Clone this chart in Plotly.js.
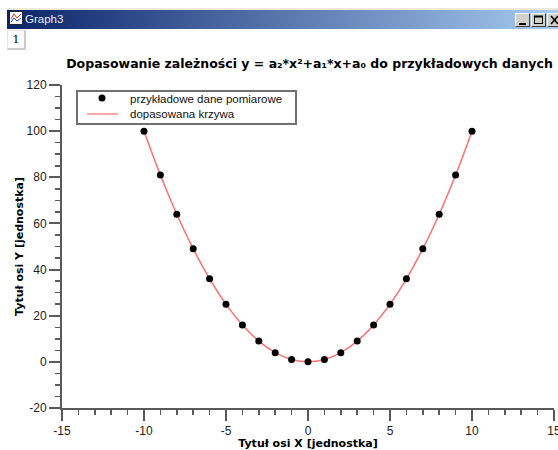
<!DOCTYPE html>
<html><head><meta charset="utf-8">
<script src="https://cdn.plot.ly/plotly-3.0.1.min.js"></script>
<style>
html,body{margin:0;padding:0;background:#fff;overflow:hidden}
#wrap{position:relative;width:558px;height:450px;overflow:hidden}
#bar{position:absolute;left:7px;top:10px;width:551px;height:19px;background:linear-gradient(90deg,#0a246a,#a6caf0);color:#e8ecf4;font:11.5px "Liberation Sans";line-height:19px;text-indent:18px}
#edge{position:absolute;left:7px;top:8px;width:551px;height:2px;background:#ece9d8}
#icon{position:absolute;left:9px;top:11px}
.btn{position:absolute;top:13px;width:15px;height:14px;background:#d4d0c8;border:1px solid;border-color:#fff #404040 #404040 #fff;box-sizing:border-box}
.btn svg{position:absolute;left:1px;top:1px}
#tab{position:absolute;left:7px;top:30px;width:19px;height:20px;box-sizing:border-box;border:1px solid #e4e4e4;border-bottom:2px solid #ccc;border-right:2px solid #ccc;font:11px "DejaVu Serif";line-height:18px;text-align:center;color:#000;background:#fff}
#plot{position:absolute;left:0;top:0}
</style></head><body>
<div id="wrap">
<div id="plot"></div>
<div id="edge"></div>
<div id="bar">Graph3</div>
<svg id="icon" width="14" height="14"><rect x="0.5" y="0.5" width="13" height="13" fill="#fff" stroke="#223"/><polyline points="2,8 5,3 8,7 12,3" fill="none" stroke="#e03030"/><polyline points="2,11 5,7 8,10 12,7" fill="none" stroke="#3040d0"/></svg>
<div class="btn" style="left:515px"><svg width="11" height="10"><rect x="2" y="8" width="7" height="2" fill="#000"/></svg></div>
<div class="btn" style="left:531px"><svg width="11" height="10"><rect x="1.5" y="1.5" width="8" height="7" fill="none" stroke="#000"/><rect x="1" y="0.5" width="9" height="2" fill="#000"/></svg></div>
<div class="btn" style="left:547px"><svg width="11" height="10"><path d="M2 1L9 9M9 1L2 9" stroke="#000" stroke-width="1.6"/></svg></div>
<div id="tab">1</div>
</div>
<script>
const xMeasured = [-10,-9,-8,-7,-6,-5,-4,-3,-2,-1,0,1,2,3,4,5,6,7,8,9,10];
const yMeasured = [100,81,64,49,36,25,16,9,4,1,0,1,4,9,16,25,36,49,64,81,100];
const xFitted = [-10,-9,-8,-7,-6,-5,-4,-3,-2,-1,0,1,2,3,4,5,6,7,8,9,10];
const yFitted = [100,81,64,49,36,25,16,9,4,1,0,1,4,9,16,25,36,49,64,81,100];
const nameMeasured = "przykładowe dane pomiarowe";
const nameFitted = "dopasowana krzywa";
const chartTitle = "Dopasowanie zależności y = a₂*x²+a₁*x+a₀ do przykładowych danych";
const xTitle = "Tytuł osi X [jednostka]";
const yTitle = "Tytuł osi Y [jednostka]";
const xTickVals = [-15,-10,-5,0,5,10,15];
const xTickText = ["-15","-10","-5","0","5","10","15"];
const yTickVals = [-20,0,20,40,60,80,100,120];
const yTickText = ["-20","0","20","40","60","80","100","120"];

const W = 558, H = 450, M = {l:62,r:4,t:85,b:42,autoexpand:false};
const px = v => (v - M.l) / (W - M.l - M.r);
const py = v => 1 - (v - M.t) / (H - M.t - M.b);
const axisColor = "#5a5a5a";
const lineColor = "#ff6f6f";
const baseAxis = {
  showgrid:false, zeroline:false, showline:true, linecolor:axisColor, linewidth:2,
  ticks:"outside", tickcolor:axisColor, tickwidth:2, ticklen:11, tickmode:"array",
  ticklabeloverflow:"allow",
  tickfont:{family:"Liberation Sans",size:12,color:"#222"}
};
const paperShape = o => Object.assign({xref:"paper",yref:"paper",layer:"above"},o);
const legendText = (text,y) => ({xref:"paper",yref:"paper",x:px(128),y:py(y),xanchor:"left",yanchor:"middle",
  showarrow:false,text:text,font:{family:"Liberation Sans",size:11.5,color:"#111"}});

Plotly.newPlot("plot",[
  {x:xFitted,y:yFitted,name:nameFitted,mode:"lines",line:{color:lineColor,width:1.5,shape:"spline"}},
  {x:xMeasured,y:yMeasured,name:nameMeasured,mode:"markers",marker:{color:"#000",size:7}}
],{
  width:W,height:H,margin:M,showlegend:false,
  paper_bgcolor:"rgba(0,0,0,0)",plot_bgcolor:"rgba(0,0,0,0)",
  title:{text:chartTitle,font:{family:"DejaVu Sans",size:12.5,color:"#000",weight:"bold"},xref:"paper",x:px(309.5),xanchor:"center",y:1-64/H,yanchor:"middle"},
  xaxis:Object.assign({},baseAxis,{range:[-15,15],tickvals:xTickVals,ticktext:xTickText,
    minor:{dtick:1,ticks:"outside",ticklen:5,tickcolor:axisColor,tickwidth:1.5},
    title:{text:xTitle,standoff:6,font:{family:"DejaVu Sans",size:11,color:"#000",weight:"bold"}}}),
  yaxis:Object.assign({},baseAxis,{range:[-20,120],tickvals:yTickVals,ticktext:yTickText,
    minor:{dtick:5,ticks:"outside",ticklen:5,tickcolor:axisColor,tickwidth:1.5},
    title:{text:yTitle,standoff:1,font:{family:"DejaVu Sans",size:11,color:"#000",weight:"bold"}}}),
  shapes:[
    paperShape({type:"rect",x0:px(77),x1:px(296),y0:py(91),y1:py(124),fillcolor:"#fff",line:{color:"#707070",width:2}}),
    paperShape({type:"line",x0:px(87),x1:px(118),y0:py(114),y1:py(114),line:{color:"#ff8a8a",width:1.5}}),
    paperShape({type:"circle",x0:px(98.5),x1:px(105.5),y0:py(94.5),y1:py(101.5),fillcolor:"#000",line:{width:0}})
  ],
  annotations:[legendText(nameMeasured,99.5),legendText(nameFitted,114)]
},{displayModeBar:false,staticPlot:true});
</script>
</body></html>
